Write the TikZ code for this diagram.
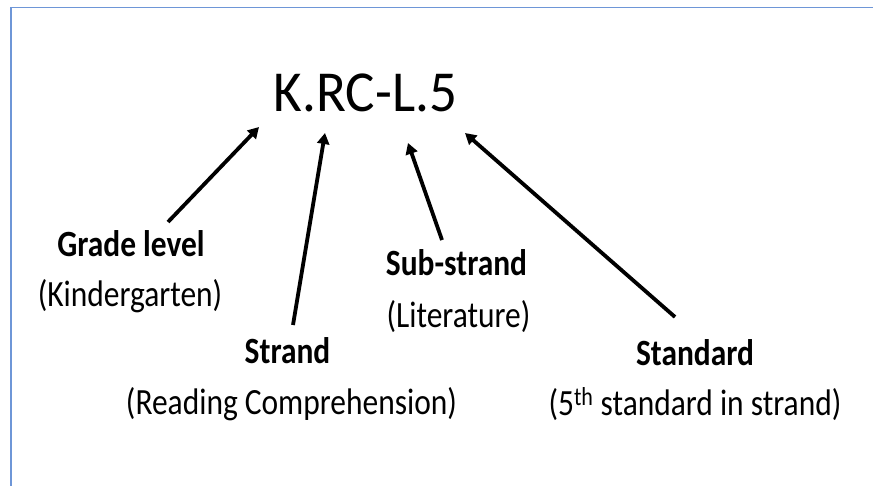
\documentclass[tikz,border=0pt]{standalone}
\usepackage{fontspec}
\setmainfont{Carlito}
\newfontfamily\lblfont{Carlito}[FakeStretch=0.85]
\newfontfamily\titlefont{Carlito}[FakeStretch=0.95]
\usetikzlibrary{arrows.meta}
\definecolor{framecol}{RGB}{110,150,215}
\tikzset{
  lbl/.style={anchor=base, inner sep=0pt, font=\lblfont\fontsize{37}{40}\selectfont},
  lblb/.style={lbl, font=\lblfont\fontsize{37}{40}\selectfont\bfseries},
  ptr/.style={line width=3.8pt, -{Triangle[length=11pt,width=12pt]}},
}
\begin{document}
\begin{tikzpicture}[x=1pt,y=-1pt]
\useasboundingbox (0,0) rectangle (873,486);
\draw[framecol, line width=1.5pt] (11,486) -- (11,7.3) -- (873,7.3);

\node[anchor=base, inner sep=0pt, font=\titlefont\fontsize{58}{62}\selectfont] (code) at (365.5,112) {K.RC-L.5};

\node[lblb] (grade) at (131,257) {Grade level};
\node[lbl] (kinder) at (130,307) {(Kindergarten)};
\node[lblb] (strand) at (287.5,363) {Strand};
\node[lbl] (reading) at (291.5,414) {(Reading Comprehension)};
\node[lblb] (sub) at (456.5,276) {Sub-strand};
\node[lbl] (lit) at (458.5,327) {(Literature)};
\node[lblb] (std) at (695,365) {Standard};
\node[lbl] (fifth) at (695,415) {(5\textsuperscript{th} standard in strand)};

\coordinate (a1) at (168,222); \coordinate (h1) at (259,127);
\coordinate (a2) at (293,325); \coordinate (h2) at (325,133);
\coordinate (a3) at (442,240); \coordinate (h3) at (408,143);
\coordinate (a4) at (675,317); \coordinate (h4) at (465,133);
\draw[ptr] (a1) -- (h1);
\draw[ptr] (a2) -- (h2);
\draw[ptr] (a3) -- (h3);
\draw[ptr] (a4) -- (h4);
\end{tikzpicture}
\end{document}
